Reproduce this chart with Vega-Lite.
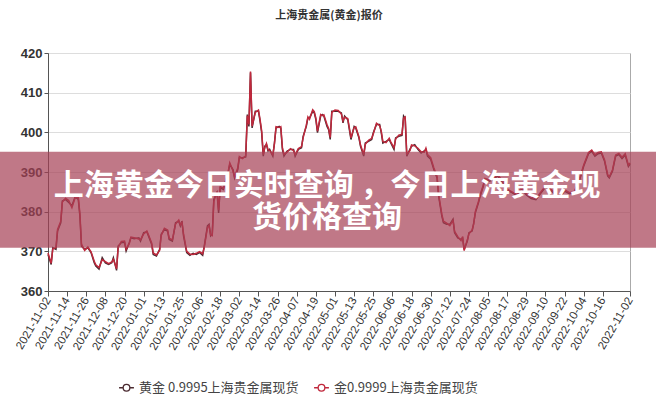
{
"$schema": "https://vega.github.io/schema/vega-lite/v6.json",
"width": 582, "height": 238,
"autosize": {"type": "none"},
"padding": {"left": 48, "top": 53, "right": 26, "bottom": 109},
"background": "white",
"title": {"text": "上海贵金属(黄金)报价", "fontSize": 11, "fontWeight": "bold", "color": "#333", "font": "Noto Sans CJK SC", "offset": 26, "anchor": "middle", "frame": "group", "dx": -10},
"config": {
  "view": {"stroke": "#aaa"},
  "axis": {"labelFont": "Liberation Sans", "labelColor": "#333", "domainColor": "#555", "tickColor": "#555", "title": null}
},
"datasets": {
"gold": [
{"d":"2021-11-02","a":369.2,"b":369.6},{"d":"2021-11-04","a":366.7,"b":367.0},{"d":"2021-11-05","a":370.9,"b":370.6},{"d":"2021-11-07","a":370.5,"b":371.0},{"d":"2021-11-08","a":375.1,"b":375.5},{"d":"2021-11-10","a":377.2,"b":377.6},{"d":"2021-11-11","a":382.7,"b":382.4},{"d":"2021-11-13","a":383.1,"b":383.4},{"d":"2021-11-15","a":382.3,"b":382.8},{"d":"2021-11-17","a":381.5,"b":381.0},{"d":"2021-11-19","a":383.7,"b":383.5},{"d":"2021-11-21","a":383.1,"b":383.6},{"d":"2021-11-22","a":378.9,"b":379.5},{"d":"2021-11-23","a":371.3,"b":371.8},{"d":"2021-11-25","a":370.5,"b":370.2},{"d":"2021-11-27","a":370.9,"b":371.1},{"d":"2021-11-29","a":369.7,"b":369.9},
{"d":"2021-12-01","a":367.1,"b":367.5},{"d":"2021-12-02","a":366.3,"b":366.6},{"d":"2021-12-04","a":365.5,"b":365.9},{"d":"2021-12-06","a":368.4,"b":367.9},{"d":"2021-12-08","a":367.1,"b":367.4},{"d":"2021-12-10","a":366.7,"b":366.9},{"d":"2021-12-12","a":367.1,"b":367.3},{"d":"2021-12-13","a":368.4,"b":368.0},{"d":"2021-12-15","a":365.2,"b":365.6},{"d":"2021-12-16","a":371.3,"b":371.0},{"d":"2021-12-18","a":372.2,"b":372.5},{"d":"2021-12-20","a":372.3,"b":372.6},{"d":"2021-12-21","a":370.1,"b":370.5},{"d":"2021-12-23","a":372.2,"b":372.0},{"d":"2021-12-24","a":373.4,"b":373.6},{"d":"2021-12-26","a":373.2,"b":373.4},{"d":"2021-12-29","a":373.4,"b":373.1},{"d":"2021-12-30","a":372.6,"b":372.9},
{"d":"2022-01-01","a":374.7,"b":374.4},{"d":"2022-01-03","a":374.9,"b":375.1},{"d":"2022-01-04","a":373.9,"b":374.2},{"d":"2022-01-06","a":371.8,"b":372.1},{"d":"2022-01-07","a":369.2,"b":369.6},{"d":"2022-01-09","a":368.8,"b":369.1},{"d":"2022-01-11","a":370.5,"b":370.2},{"d":"2022-01-12","a":374.3,"b":374.0},{"d":"2022-01-14","a":375.5,"b":375.8},{"d":"2022-01-16","a":375.1,"b":375.4},{"d":"2022-01-17","a":373.0,"b":373.3},{"d":"2022-01-19","a":372.6,"b":372.9},{"d":"2022-01-21","a":377.2,"b":376.9},{"d":"2022-01-23","a":377.6,"b":377.9},{"d":"2022-01-24","a":376.4,"b":376.7},{"d":"2022-01-25","a":377.6,"b":377.3},{"d":"2022-01-26","a":373.9,"b":374.4},{"d":"2022-01-28","a":369.7,"b":370.0},{"d":"2022-01-30","a":369.0,"b":369.3},
{"d":"2022-02-01","a":369.5,"b":369.2},{"d":"2022-02-03","a":369.2,"b":369.5},{"d":"2022-02-05","a":369.7,"b":369.9},{"d":"2022-02-07","a":369.0,"b":369.4},{"d":"2022-02-08","a":371.3,"b":371.0},{"d":"2022-02-10","a":376.4,"b":376.0},{"d":"2022-02-11","a":376.8,"b":376.5},{"d":"2022-02-12","a":373.9,"b":374.2},{"d":"2022-02-13","a":374.3,"b":374.0},{"d":"2022-02-14","a":383.1,"b":382.6},{"d":"2022-02-16","a":384.8,"b":385.1},{"d":"2022-02-17","a":379.7,"b":380.4},{"d":"2022-02-18","a":386.0,"b":386.3},{"d":"2022-02-20","a":385.6,"b":385.9},{"d":"2022-02-21","a":387.3,"b":387.0},{"d":"2022-02-23","a":389.8,"b":390.1},{"d":"2022-02-24","a":391.9,"b":392.3},{"d":"2022-02-26","a":390.6,"b":390.3},{"d":"2022-02-27","a":388.5,"b":388.8},
{"d":"2022-03-01","a":390.6,"b":391.0},{"d":"2022-03-02","a":393.6,"b":393.9},{"d":"2022-03-04","a":393.6,"b":393.4},{"d":"2022-03-06","a":393.8,"b":394.1},{"d":"2022-03-07","a":404.5,"b":404.2},{"d":"2022-03-08","a":401.5,"b":402.0},{"d":"2022-03-09","a":415.1,"b":415.3},{"d":"2022-03-10","a":401.1,"b":401.6},{"d":"2022-03-12","a":405.3,"b":405.0},{"d":"2022-03-14","a":405.3,"b":405.6},{"d":"2022-03-15","a":402.8,"b":403.2},{"d":"2022-03-16","a":399.9,"b":400.4},{"d":"2022-03-17","a":394.0,"b":394.4},{"d":"2022-03-18","a":396.5,"b":396.2},{"d":"2022-03-19","a":396.9,"b":397.2},{"d":"2022-03-20","a":395.3,"b":395.6},{"d":"2022-03-21","a":395.7,"b":395.4},{"d":"2022-03-23","a":394.0,"b":394.3},{"d":"2022-03-24","a":397.3,"b":397.0},{"d":"2022-03-25","a":401.1,"b":401.4},{"d":"2022-03-27","a":401.5,"b":401.2},{"d":"2022-03-28","a":401.1,"b":401.4},{"d":"2022-03-29","a":395.7,"b":396.2},{"d":"2022-03-30","a":394.0,"b":394.4},
{"d":"2022-04-01","a":395.3,"b":395.0},{"d":"2022-04-03","a":395.7,"b":395.9},{"d":"2022-04-05","a":395.7,"b":395.4},{"d":"2022-04-06","a":394.0,"b":394.3},{"d":"2022-04-08","a":395.7,"b":395.9},{"d":"2022-04-10","a":396.1,"b":396.4},{"d":"2022-04-11","a":399.0,"b":398.6},{"d":"2022-04-13","a":401.5,"b":401.8},{"d":"2022-04-14","a":403.6,"b":403.9},{"d":"2022-04-15","a":403.6,"b":403.3},{"d":"2022-04-17","a":405.3,"b":405.7},{"d":"2022-04-18","a":404.9,"b":405.2},{"d":"2022-04-19","a":403.2,"b":403.6},{"d":"2022-04-20","a":399.9,"b":400.3},{"d":"2022-04-22","a":404.1,"b":404.5},{"d":"2022-04-23","a":404.5,"b":404.2},{"d":"2022-04-24","a":404.1,"b":404.4},{"d":"2022-04-26","a":401.5,"b":401.9},{"d":"2022-04-27","a":400.7,"b":401.0},{"d":"2022-04-28","a":398.2,"b":398.7},{"d":"2022-04-29","a":405.3,"b":405.0},
{"d":"2022-05-01","a":405.3,"b":405.6},{"d":"2022-05-03","a":405.3,"b":405.5},{"d":"2022-05-05","a":404.9,"b":404.6},{"d":"2022-05-06","a":402.4,"b":402.9},{"d":"2022-05-07","a":404.1,"b":403.8},{"d":"2022-05-09","a":403.2,"b":403.5},{"d":"2022-05-10","a":400.7,"b":401.1},{"d":"2022-05-11","a":398.2,"b":398.6},{"d":"2022-05-13","a":401.5,"b":401.2},{"d":"2022-05-14","a":401.1,"b":401.4},{"d":"2022-05-16","a":398.6,"b":398.9},{"d":"2022-05-17","a":396.5,"b":396.8},{"d":"2022-05-19","a":394.0,"b":394.4},{"d":"2022-05-20","a":397.3,"b":397.0},{"d":"2022-05-22","a":397.7,"b":398.0},{"d":"2022-05-24","a":398.2,"b":398.5},{"d":"2022-05-25","a":399.9,"b":399.6},{"d":"2022-05-27","a":402.0,"b":402.3},{"d":"2022-05-29","a":402.0,"b":401.7},{"d":"2022-05-30","a":399.9,"b":400.3},{"d":"2022-05-31","a":397.3,"b":397.7},
{"d":"2022-06-02","a":397.7,"b":397.4},{"d":"2022-06-04","a":398.2,"b":398.5},{"d":"2022-06-05","a":397.3,"b":397.6},{"d":"2022-06-07","a":395.7,"b":396.1},{"d":"2022-06-08","a":398.6,"b":398.3},{"d":"2022-06-10","a":399.0,"b":399.3},{"d":"2022-06-12","a":399.2,"b":399.5},{"d":"2022-06-13","a":404.1,"b":403.6},{"d":"2022-06-14","a":403.5,"b":403.9},{"d":"2022-06-15","a":394.0,"b":394.5},{"d":"2022-06-17","a":395.7,"b":395.4},{"d":"2022-06-18","a":396.5,"b":396.8},{"d":"2022-06-20","a":396.9,"b":396.6},{"d":"2022-06-22","a":395.7,"b":396.0},{"d":"2022-06-24","a":394.8,"b":395.1},{"d":"2022-06-26","a":395.3,"b":395.0},{"d":"2022-06-27","a":395.7,"b":396.0},{"d":"2022-06-28","a":394.0,"b":394.4},{"d":"2022-06-30","a":393.2,"b":393.6},
{"d":"2022-07-02","a":390.6,"b":391.0},{"d":"2022-07-04","a":388.5,"b":388.9},{"d":"2022-07-05","a":383.9,"b":384.3},{"d":"2022-07-07","a":378.9,"b":379.3},{"d":"2022-07-08","a":377.2,"b":377.6},{"d":"2022-07-10","a":376.8,"b":377.1},{"d":"2022-07-12","a":376.8,"b":376.5},{"d":"2022-07-14","a":378.1,"b":377.8},{"d":"2022-07-15","a":374.7,"b":375.0},{"d":"2022-07-17","a":373.4,"b":373.7},{"d":"2022-07-19","a":373.0,"b":372.7},{"d":"2022-07-20","a":373.4,"b":373.7},{"d":"2022-07-21","a":370.5,"b":370.2},{"d":"2022-07-23","a":372.6,"b":372.9},{"d":"2022-07-24","a":374.7,"b":374.4},{"d":"2022-07-26","a":375.1,"b":375.4},{"d":"2022-07-27","a":377.2,"b":376.9},{"d":"2022-07-28","a":379.7,"b":380.0},{"d":"2022-07-30","a":382.3,"b":382.6},{"d":"2022-07-31","a":383.9,"b":384.2},
{"d":"2022-08-02","a":386.4,"b":386.7},{"d":"2022-08-03","a":388.1,"b":388.4},{"d":"2022-08-06","a":387.7,"b":388.0},{"d":"2022-08-08","a":388.1,"b":388.4},{"d":"2022-08-11","a":389.0,"b":389.3},{"d":"2022-08-14","a":387.5,"b":387.8},{"d":"2022-08-17","a":385.4,"b":385.7},{"d":"2022-08-20","a":384.8,"b":385.0},{"d":"2022-08-23","a":384.0,"b":384.3},{"d":"2022-08-26","a":385.8,"b":386.1},{"d":"2022-08-29","a":384.2,"b":384.5},
{"d":"2022-09-01","a":383.3,"b":383.6},{"d":"2022-09-04","a":383.0,"b":383.3},{"d":"2022-09-07","a":384.6,"b":384.9},{"d":"2022-09-10","a":386.2,"b":386.5},{"d":"2022-09-13","a":385.5,"b":385.8},{"d":"2022-09-16","a":384.4,"b":384.7},{"d":"2022-09-19","a":383.6,"b":383.9},{"d":"2022-09-22","a":385.2,"b":385.5},{"d":"2022-09-25","a":384.5,"b":384.8},{"d":"2022-09-28","a":384.8,"b":385.1},
{"d":"2022-10-01","a":387.5,"b":387.8},{"d":"2022-10-04","a":391.5,"b":391.8},{"d":"2022-10-07","a":394.6,"b":394.9},{"d":"2022-10-09","a":395.2,"b":395.5},{"d":"2022-10-11","a":394.0,"b":394.3},{"d":"2022-10-13","a":394.6,"b":394.9},{"d":"2022-10-15","a":394.8,"b":395.1},{"d":"2022-10-17","a":392.8,"b":393.1},{"d":"2022-10-19","a":389.0,"b":389.3},{"d":"2022-10-20","a":388.5,"b":388.8},{"d":"2022-10-22","a":390.2,"b":390.5},{"d":"2022-10-24","a":394.0,"b":394.3},{"d":"2022-10-26","a":394.4,"b":394.7},{"d":"2022-10-28","a":393.4,"b":393.7},{"d":"2022-10-30","a":394.3,"b":394.6},{"d":"2022-11-01","a":391.4,"b":391.7},{"d":"2022-11-02","a":392.0,"b":392.3}
]
},
"layer": [
{
  "data": {"name": "gold"},
  "transform": [{"fold": ["a", "b"], "as": ["s", "v"]}],
  "mark": {"type": "line", "strokeWidth": 1.5},
  "encoding": {
    "x": {"field": "d", "type": "temporal",
      "scale": {"type": "utc", "domain": [{"year": 2021, "month": 11, "date": 2, "utc": true}, {"year": 2022, "month": 11, "date": 2, "utc": true}]},
      "axis": {"format": "%Y-%m-%d", "labelAngle": -60, "labelFontSize": 11.5, "labelOverlap": false, "grid": false, "tickSize": 5, "labelPadding": 2,
        "values": [
          {"year":2021,"month":11,"date":2,"utc":true},{"year":2021,"month":11,"date":14,"utc":true},{"year":2021,"month":11,"date":26,"utc":true},{"year":2021,"month":12,"date":8,"utc":true},{"year":2021,"month":12,"date":20,"utc":true},
          {"year":2022,"month":1,"date":1,"utc":true},{"year":2022,"month":1,"date":13,"utc":true},{"year":2022,"month":1,"date":25,"utc":true},{"year":2022,"month":2,"date":6,"utc":true},{"year":2022,"month":2,"date":18,"utc":true},
          {"year":2022,"month":3,"date":2,"utc":true},{"year":2022,"month":3,"date":14,"utc":true},{"year":2022,"month":3,"date":26,"utc":true},{"year":2022,"month":4,"date":7,"utc":true},{"year":2022,"month":4,"date":19,"utc":true},
          {"year":2022,"month":5,"date":1,"utc":true},{"year":2022,"month":5,"date":13,"utc":true},{"year":2022,"month":5,"date":25,"utc":true},{"year":2022,"month":6,"date":6,"utc":true},{"year":2022,"month":6,"date":18,"utc":true},
          {"year":2022,"month":6,"date":30,"utc":true},{"year":2022,"month":7,"date":12,"utc":true},{"year":2022,"month":7,"date":24,"utc":true},{"year":2022,"month":8,"date":5,"utc":true},{"year":2022,"month":8,"date":17,"utc":true},
          {"year":2022,"month":8,"date":29,"utc":true},{"year":2022,"month":9,"date":10,"utc":true},{"year":2022,"month":9,"date":22,"utc":true},{"year":2022,"month":10,"date":4,"utc":true},{"year":2022,"month":10,"date":16,"utc":true},
          {"year":2022,"month":11,"date":2,"utc":true}
        ]}},
    "y": {"field": "v", "type": "quantitative",
      "scale": {"domain": [360, 420]},
      "axis": {"values": [360, 370, 380, 390, 400, 410, 420], "labelFontSize": 13, "labelFontWeight": "bold", "gridColor": "#ddd", "tickSize": 4, "labelPadding": 2, "labelOverlap": false}},
    "color": {"field": "s", "type": "nominal",
      "scale": {"domain": ["a", "b"], "range": ["#4a2a30", "#c0283c"]},
      "legend": {"orient": "none", "legendX": 70, "legendY": 326, "direction": "horizontal", "title": null,
        "labelExpr": "datum.value == 'a' ? '黄金 0.9995上海贵金属现货' : '金0.9999上海贵金属现货'",
        "labelFont": "Noto Sans CJK SC", "labelFontSize": 13, "labelColor": "#444",
        "symbolType": "M-1,0L-0.45,0M0.45,0L1,0M0.45,0A0.45,0.45,0,1,1,-0.45,0A0.45,0.45,0,1,1,0.45,0",
        "symbolSize": 220, "symbolStrokeWidth": 1.3, "symbolFillColor": "white", "columnPadding": 12}}
  }
},
{
  "data": {"values": [{}]},
  "mark": {"type": "rect", "color": "#a53e54", "opacity": 0.7},
  "encoding": {
    "x": {"datum": {"year": 2021, "month": 9, "date": 1, "utc": true}, "type": "temporal",
      "scale": {"type": "utc", "domain": [{"year": 2021, "month": 11, "date": 2, "utc": true}, {"year": 2022, "month": 11, "date": 2, "utc": true}]},
      "axis": {"format": "%Y-%m-%d", "labelAngle": -60, "labelFontSize": 11.5, "labelOverlap": false, "grid": false, "tickSize": 5, "labelPadding": 2,
        "values": [
          {"year":2021,"month":11,"date":2,"utc":true},{"year":2021,"month":11,"date":14,"utc":true},{"year":2021,"month":11,"date":26,"utc":true},{"year":2021,"month":12,"date":8,"utc":true},{"year":2021,"month":12,"date":20,"utc":true},
          {"year":2022,"month":1,"date":1,"utc":true},{"year":2022,"month":1,"date":13,"utc":true},{"year":2022,"month":1,"date":25,"utc":true},{"year":2022,"month":2,"date":6,"utc":true},{"year":2022,"month":2,"date":18,"utc":true},
          {"year":2022,"month":3,"date":2,"utc":true},{"year":2022,"month":3,"date":14,"utc":true},{"year":2022,"month":3,"date":26,"utc":true},{"year":2022,"month":4,"date":7,"utc":true},{"year":2022,"month":4,"date":19,"utc":true},
          {"year":2022,"month":5,"date":1,"utc":true},{"year":2022,"month":5,"date":13,"utc":true},{"year":2022,"month":5,"date":25,"utc":true},{"year":2022,"month":6,"date":6,"utc":true},{"year":2022,"month":6,"date":18,"utc":true},
          {"year":2022,"month":6,"date":30,"utc":true},{"year":2022,"month":7,"date":12,"utc":true},{"year":2022,"month":7,"date":24,"utc":true},{"year":2022,"month":8,"date":5,"utc":true},{"year":2022,"month":8,"date":17,"utc":true},
          {"year":2022,"month":8,"date":29,"utc":true},{"year":2022,"month":9,"date":10,"utc":true},{"year":2022,"month":9,"date":22,"utc":true},{"year":2022,"month":10,"date":4,"utc":true},{"year":2022,"month":10,"date":16,"utc":true},
          {"year":2022,"month":11,"date":2,"utc":true}
        ]}},
    "x2": {"datum": {"year": 2022, "month": 12, "date": 31, "utc": true}},
    "y": {"datum": 395.1, "type": "quantitative",
      "scale": {"domain": [360, 420]},
      "axis": {"values": [360, 370, 380, 390, 400, 410, 420], "labelFontSize": 13, "labelFontWeight": "bold", "gridColor": "#ddd", "tickSize": 4, "labelPadding": 2, "labelOverlap": false}},
    "y2": {"datum": 370.9}
  }
},
{
  "data": {"values": [{}]},
  "mark": {"type": "text", "color": "white", "fontSize": 30, "fontWeight": "bold", "font": "Noto Sans CJK SC", "lineBreak": "\n", "lineHeight": 32, "align": "center", "baseline": "middle"},
  "encoding": {
    "x": {"datum": {"year": 2022, "month": 4, "date": 26, "utc": true}, "type": "temporal",
      "scale": {"type": "utc", "domain": [{"year": 2021, "month": 11, "date": 2, "utc": true}, {"year": 2022, "month": 11, "date": 2, "utc": true}]},
      "axis": {"format": "%Y-%m-%d", "labelAngle": -60, "labelFontSize": 11.5, "labelOverlap": false, "grid": false, "tickSize": 5, "labelPadding": 2,
        "values": [
          {"year":2021,"month":11,"date":2,"utc":true},{"year":2021,"month":11,"date":14,"utc":true},{"year":2021,"month":11,"date":26,"utc":true},{"year":2021,"month":12,"date":8,"utc":true},{"year":2021,"month":12,"date":20,"utc":true},
          {"year":2022,"month":1,"date":1,"utc":true},{"year":2022,"month":1,"date":13,"utc":true},{"year":2022,"month":1,"date":25,"utc":true},{"year":2022,"month":2,"date":6,"utc":true},{"year":2022,"month":2,"date":18,"utc":true},
          {"year":2022,"month":3,"date":2,"utc":true},{"year":2022,"month":3,"date":14,"utc":true},{"year":2022,"month":3,"date":26,"utc":true},{"year":2022,"month":4,"date":7,"utc":true},{"year":2022,"month":4,"date":19,"utc":true},
          {"year":2022,"month":5,"date":1,"utc":true},{"year":2022,"month":5,"date":13,"utc":true},{"year":2022,"month":5,"date":25,"utc":true},{"year":2022,"month":6,"date":6,"utc":true},{"year":2022,"month":6,"date":18,"utc":true},
          {"year":2022,"month":6,"date":30,"utc":true},{"year":2022,"month":7,"date":12,"utc":true},{"year":2022,"month":7,"date":24,"utc":true},{"year":2022,"month":8,"date":5,"utc":true},{"year":2022,"month":8,"date":17,"utc":true},
          {"year":2022,"month":8,"date":29,"utc":true},{"year":2022,"month":9,"date":10,"utc":true},{"year":2022,"month":9,"date":22,"utc":true},{"year":2022,"month":10,"date":4,"utc":true},{"year":2022,"month":10,"date":16,"utc":true},
          {"year":2022,"month":11,"date":2,"utc":true}
        ]}},
    "y": {"datum": 386.5, "type": "quantitative",
      "scale": {"domain": [360, 420]},
      "axis": {"values": [360, 370, 380, 390, 400, 410, 420], "labelFontSize": 13, "labelFontWeight": "bold", "gridColor": "#ddd", "tickSize": 4, "labelPadding": 2, "labelOverlap": false}},
    "text": {"value": "上海黄金今日实时查询 ，今日上海黄金现\n货价格查询"}
  }
}
]
}
